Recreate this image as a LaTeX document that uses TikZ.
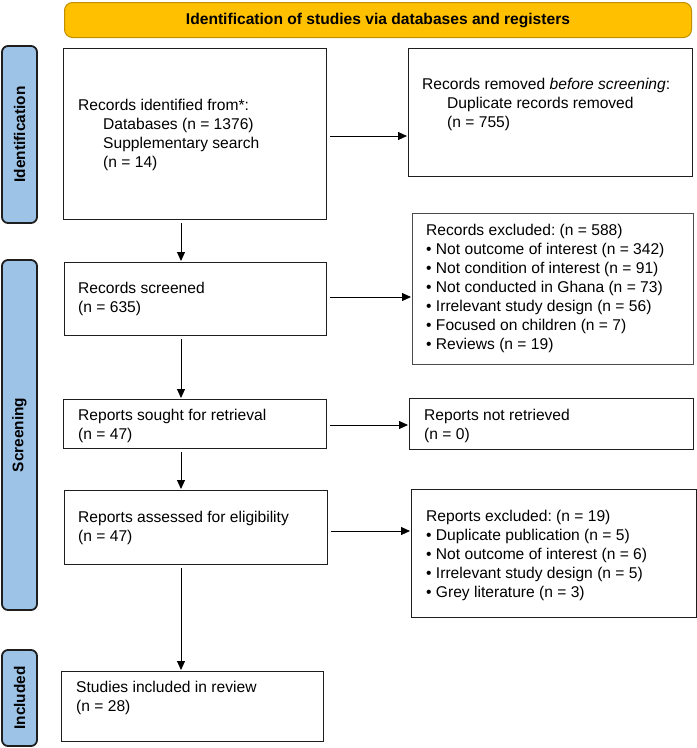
\documentclass[tikz,border=0pt]{standalone}
\usepackage{fontspec}
\setmainfont{Liberation Sans}
\usetikzlibrary{arrows.meta}
\definecolor{gold}{HTML}{FFC000}
\definecolor{golddark}{HTML}{BF9000}
\definecolor{sideblue}{HTML}{9DC3E6}
\definecolor{boxline}{HTML}{1E1E1E}
\frenchspacing
\begin{document}
\begin{tikzpicture}[x=1pt,y=-1pt,
  box/.style={draw=boxline, line width=1.4pt, inner sep=0pt, anchor=north west},
  thinbox/.style={draw=black!70, line width=1pt, inner sep=0pt, anchor=north west},
  txt/.style={anchor=west, align=left, inner sep=0pt, font=\fontsize{15.6}{19}\selectfont},
  side/.style={draw=boxline, fill=sideblue, line width=1.8pt, rounded corners=6pt, inner sep=0pt,
    rotate=90, minimum height=35pt, font=\bfseries\fontsize{15.4}{18}\selectfont},
  arr/.style={-{Triangle[length=9pt,width=8pt]}, line width=0.9pt, shorten <=3pt, shorten >=1pt}
]
\useasboundingbox (0,0) rectangle (697,748);

% banner
\node[draw=golddark, fill=gold, line width=1pt, rounded corners=8pt, inner sep=0pt,
  minimum width=627pt, minimum height=35pt, anchor=north west,
  font=\bfseries\fontsize{15.6}{19}\selectfont] (ban) at (64,2)
  {Identification of studies via databases and registers};

% side labels
\node[side, minimum width=177pt] (sid) at (19.5,134.5) {Identification};
\node[side, minimum width=350pt] (sscr) at (19.5,435) {Screening};
\node[side, minimum width=96pt] (sinc) at (19.5,698) {Included};

% boxes
\node[box, minimum width=263pt, minimum height=171pt] (b1) at (63,48) {};
\node[box, minimum width=284pt, minimum height=128pt] (b2) at (408,48) {};
\node[box, minimum width=262pt, minimum height=73pt] (s) at (64,262) {};
\node[thinbox, minimum width=281pt, minimum height=151pt] (e) at (412,213) {};
\node[box, minimum width=263pt, minimum height=49pt] (r) at (63,399) {};
\node[box, minimum width=284pt, minimum height=51pt] (nr) at (409,398) {};
\node[box, minimum width=263pt, minimum height=74pt] (a) at (64,490) {};
\node[box, minimum width=285pt, minimum height=128pt] (re) at (411,489) {};
\node[box, minimum width=262pt, minimum height=70pt] (inc) at (61,671) {};

% texts
\node[txt] (t1) at (78,135) {Records identified from*:\\
  \hspace*{25pt}Databases (n = 1376)\\
  \hspace*{25pt}Supplementary search\\
  \hspace*{25pt}(n = 14)};
\node[txt] (t2) at (422,104.5) {Records removed \textit{before screening}:\\
  \hspace*{25pt}Duplicate records removed\\
  \hspace*{25pt}(n = 755)};
\node[txt] (ts) at (78,299) {Records screened\\(n = 635)};
\node[txt] (te) at (426,288.7) {Records excluded: (n = 588)\\
  • Not outcome of interest (n = 342)\\
  • Not condition of interest (n = 91)\\
  • Not conducted in Ghana (n = 73)\\
  • Irrelevant study design (n = 56)\\
  • Focused on children (n = 7)\\
  • Reviews (n = 19)};
\node[txt] (tr) at (78,425.5) {Reports sought for retrieval\\(n = 47)};
\node[txt] (tnr) at (424,426) {Reports not retrieved\\(n = 0)};
\node[txt] (ta) at (78,527.5) {Reports assessed for eligibility\\(n = 47)};
\node[txt] (tre) at (426,555.7) {Reports excluded: (n = 19)\\
  • Duplicate publication (n = 5)\\
  • Not outcome of interest (n = 6)\\
  • Irrelevant study design (n = 5)\\
  • Grey literature (n = 3)};
\node[txt] (tinc) at (76,697.5) {Studies included in review\\(n = 28)};

% connectors
\coordinate (ax) at (181,0);
\coordinate (h1) at (0,136);
\coordinate (h2) at (0,297);
\coordinate (h3) at (0,425);
\coordinate (h4) at (0,531);
\draw[arr] (b1.south -| ax) -- (s.north -| ax);
\draw[arr] (s.south -| ax) -- (r.north -| ax);
\draw[arr] (r.south -| ax) -- (a.north -| ax);
\draw[arr] (a.south -| ax) -- (inc.north -| ax);
\draw[arr] (b1.east |- h1) -- (b2.west |- h1);
\draw[arr] (s.east |- h2) -- (e.west |- h2);
\draw[arr] (r.east |- h3) -- (nr.west |- h3);
\draw[arr] (a.east |- h4) -- (re.west |- h4);
\end{tikzpicture}
\end{document}
